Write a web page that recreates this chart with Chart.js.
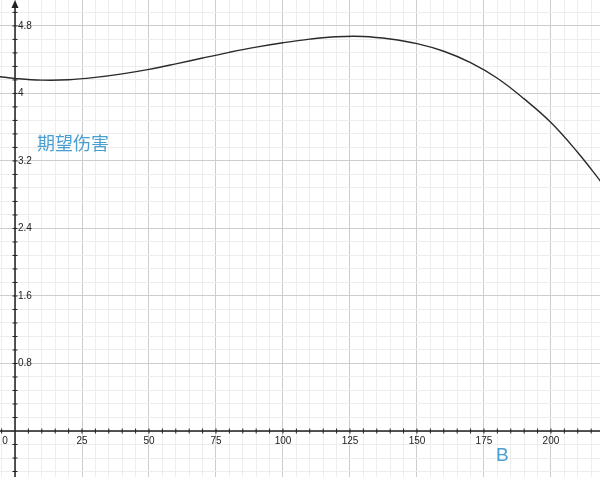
<!DOCTYPE html>
<html>
<head>
<meta charset="utf-8">
<title>期望伤害</title>
<script src="https://cdn.jsdelivr.net/npm/chart.js@4"></script>
<style>
  html, body { margin: 0; padding: 0; background: #fff; }
  #wrap { width: 600px; height: 477px; position: relative; }
</style>
</head>
<body>
<div id="wrap"><canvas id="myChart"></canvas></div>
<script>
// B values and expected damage
const bValues = [-6, 0, 10, 20, 30, 40, 50, 60, 70, 80, 90, 100, 110, 120, 130, 140, 150, 160, 170, 180, 190, 200, 210, 219];
const damage  = [4.20, 4.178, 4.158, 4.162, 4.19, 4.232, 4.285, 4.35, 4.42, 4.487, 4.548, 4.60, 4.643, 4.672, 4.675, 4.645, 4.59, 4.50, 4.365, 4.18, 3.935, 3.655, 3.30, 2.94];

// tick labels
const xTickLabels = [25, 50, 75, 100, 125, 150, 175, 200];
const yTickLabels = [0.8, 1.6, 2.4, 3.2, 4, 4.8];
const xTitle = 'B';
const yTitle = '期望伤害';

const isMultiple = (v, step) => Math.abs(v / step - Math.round(v / step)) < 1e-6;

// axes, tick marks, labels drawn on top of the grid
const axesPlugin = {
  id: 'axes',
  beforeDatasetsDraw(chart) {
    const ctx = chart.ctx;
    const xs = chart.scales.x, ys = chart.scales.y;
    const area = chart.chartArea;
    const x0 = xs.getPixelForValue(0), y0 = ys.getPixelForValue(0);
    ctx.save();
    ctx.strokeStyle = '#222';
    ctx.fillStyle = '#222';
    ctx.lineWidth = 1.5;
    ctx.beginPath();
    ctx.moveTo(area.left, y0); ctx.lineTo(area.right, y0);
    ctx.moveTo(x0, area.bottom); ctx.lineTo(x0, area.top + 4);
    ctx.stroke();

    // arrow at the top of the y axis
    ctx.beginPath();
    ctx.moveTo(x0, area.top);
    ctx.lineTo(x0 - 3.5, area.top + 8);
    ctx.lineTo(x0 + 3.5, area.top + 8);
    ctx.closePath();
    ctx.fill();

    // small tick marks
    ctx.lineWidth = 1;
    ctx.beginPath();
    for (let v = -5; v <= xs.max; v += 5) {
      if (v === 0) continue;
      const p = xs.getPixelForValue(v);
      ctx.moveTo(p, y0 - 2.5); ctx.lineTo(p, y0 + 2.5);
    }
    for (let i = -3; i <= 31; i++) {
      if (i === 0) continue;
      const p = ys.getPixelForValue(i * 0.16);
      ctx.moveTo(x0 - 2.5, p); ctx.lineTo(x0 + 2.5, p);
    }
    ctx.stroke();

    // tick labels
    ctx.font = '10px "Liberation Sans", Arial, sans-serif';
    ctx.fillStyle = '#222';
    ctx.textAlign = 'center';
    ctx.textBaseline = 'top';
    xTickLabels.forEach(v => ctx.fillText(String(v), xs.getPixelForValue(v), y0 + 5));
    ctx.fillText('0', x0 - 10, y0 + 5);
    ctx.textAlign = 'left';
    ctx.textBaseline = 'middle';
    yTickLabels.forEach(v => ctx.fillText(String(v), x0 + 3, ys.getPixelForValue(v)));

    // axis titles
    ctx.fillStyle = '#4a9fd2';
    ctx.font = '18px "Noto Sans CJK SC", sans-serif';
    ctx.textAlign = 'left';
    ctx.textBaseline = 'middle';
    ctx.fillText(yTitle, 37, 143);
    ctx.font = '19px "Liberation Sans", Arial, sans-serif';
    ctx.fillText(xTitle, 496, 456);
    ctx.restore();
  }
};

const gridColor = step => ctx => {
  const v = ctx.tick ? ctx.tick.value : 0;
  return isMultiple(v, step) ? '#cdcdcd' : '#ededed';
};

new Chart(document.getElementById('myChart'), {
  type: 'line',
  data: {
    datasets: [{
      data: bValues.map((b, i) => ({ x: b, y: damage[i] })),
      borderColor: '#2b2b2b',
      borderWidth: 1.4,
      pointRadius: 0,
      tension: 0.4,
      fill: false
    }]
  },
  plugins: [axesPlugin],
  options: {
    responsive: true,
    maintainAspectRatio: false,
    animation: false,
    layout: { padding: 0 },
    plugins: { legend: { display: false }, tooltip: { enabled: false } },
    scales: {
      x: {
        type: 'linear',
        min: -5.6,
        max: 218.3,
        border: { display: false },
        grid: { color: gridColor(25), drawTicks: false, lineWidth: 1 },
        ticks: { display: false, stepSize: 5, includeBounds: false }
      },
      y: {
        type: 'linear',
        min: -0.545,
        max: 5.107,
        border: { display: false },
        grid: { color: gridColor(0.8), drawTicks: false, lineWidth: 1 },
        ticks: { display: false, stepSize: 0.16, includeBounds: false }
      }
    }
  }
});
</script>
</body>
</html>
